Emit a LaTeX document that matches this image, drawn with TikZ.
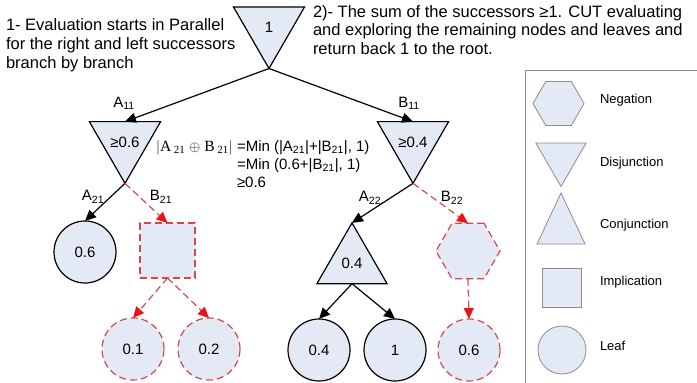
\documentclass[tikz,border=0pt]{standalone}
\usepackage{fontspec}
\setmainfont{Liberation Sans}
\newfontfamily\serifrm{Liberation Serif}
\usetikzlibrary{shapes.geometric,arrows.meta}
\definecolor{nodefill}{RGB}{228,233,246}
\definecolor{dashred}{RGB}{214,72,72}
\definecolor{tipred}{RGB}{235,20,20}
\definecolor{legendgray}{RGB}{140,140,140}
\begin{document}
\begin{tikzpicture}[x=1pt,y=-1pt,
  every node/.style={font=\fontsize{15}{18}\selectfont, inner sep=0pt, outer sep=0pt},
  bigtext/.style={font=\fontsize{16.5}{19}\selectfont, anchor=base west},
  legtext/.style={font=\fontsize{13}{15}\selectfont, anchor=base west},
  solidshape/.style={draw=black, line width=1.2pt, fill=nodefill},
  cutshape/.style={draw=dashred, line width=1.2pt, fill=nodefill, dash pattern=on 7pt off 4pt},
  legshape/.style={draw=legendgray, line width=0.8pt, fill=nodefill},
  leafshape/.style={circle, minimum size=62pt},
  disjshape/.style={regular polygon, regular polygon sides=3, shape border rotate=180},
  conjshape/.style={regular polygon, regular polygon sides=3},
  negshape/.style={regular polygon, regular polygon sides=6},
  impshape/.style={rectangle},
  solidarrow/.style={draw=black, line width=1.2pt, -{Triangle[length=11pt,width=10pt]}},
  cutarrow/.style={draw=dashred, line width=1.2pt, dash pattern=on 7pt off 4pt, -{Triangle[length=11pt,width=10pt,color=tipred]}},
]
\useasboundingbox (0,0) rectangle (697,383);

% top texts
\node[bigtext] (t1) at (6,30.5) {1- Evaluation starts in Parallel};
\node[bigtext] (t2) at (6,49.5) {for the right and left successors};
\node[bigtext] (t3) at (6,68.5) {branch by branch};
\node[bigtext] (r1) at (313,17) {2)- The sum of the successors ≥1. CUT evaluating};
\node[bigtext] (r2) at (313,35.5) {and exploring the remaining nodes and leaves and};
\node[bigtext] (r3) at (313,54) {return back 1 to the root.};

% tree nodes
\node[solidshape, disjshape, minimum size=82pt] (root) at (269,27.5) {\raisebox{-4pt}{1}};
\node[solidshape, disjshape, minimum size=81pt] (d1) at (125,142.2) {\raisebox{-4pt}{≥0.6}};
\node[solidshape, disjshape, minimum size=81pt] (d2) at (413,142.2) {\raisebox{-4pt}{≥0.4}};
\node[solidshape, leafshape] (lA) at (85,252) {0.6};
\node[cutshape, impshape, minimum size=55pt] (sq) at (167.5,250.5) {};
\node[cutshape, leafshape] (l01) at (133,349) {0.1};
\node[cutshape, leafshape] (l02) at (209,349) {0.2};
\node[solidshape, conjshape, minimum size=81pt] (cj) at (352,263.4) {0.4};
\node[cutshape, negshape, minimum size=64pt] (hx) at (468,251) {};
\node[solidshape, leafshape] (l04) at (319,350) {0.4};
\node[solidshape, leafshape] (l1) at (395,350) {1};
\node[cutshape, leafshape] (l06) at (469,350) {0.6};

% connectors
\draw[solidarrow] (root.south) -- (d1.north);
\draw[solidarrow] (root.south) -- (d2.north);
\draw[solidarrow] (d1.south) -- (lA.north);
\draw[cutarrow] (d1.south) -- (sq.north);
\draw[cutarrow] (sq.south) -- (l01.north);
\draw[cutarrow] (sq.south) -- (l02.north);
\draw[solidarrow] (d2.south) -- (cj.north);
\draw[cutarrow] (d2.south) -- (hx.north);
\draw[solidarrow] (cj.south) -- (l04.north);
\draw[solidarrow] (cj.south) -- (l1.north);
\draw[cutarrow] (hx.south) -- (l06.north);

% edge labels
\node (lbA11) at (124,103) {A\textsubscript{11}};
\node (lbB11) at (409,103) {B\textsubscript{11}};
\node (lbA21) at (93,197) {A\textsubscript{21}};
\node (lbB21) at (161,197) {B\textsubscript{21}};
\node (lbA22) at (370,198) {A\textsubscript{22}};
\node (lbB22) at (452,198) {B\textsubscript{22}};

% formula
\node[anchor=base west] (fm) at (156,151) {\serifrm\fontsize{15.6}{18}\selectfont$\Bigl|$A\,\textsubscript{21} $\oplus$ B\,\textsubscript{21}$\Bigr|$};
\node[anchor=base west] (f1) at (237,151) {=Min (|A\textsubscript{21}|+|B\textsubscript{21}|, 1)};
\node[anchor=base west] (f2) at (237,169) {=Min (0.6+|B\textsubscript{21}|, 1)};
\node[anchor=base west] (f3) at (237,187) {≥0.6};

% legend
\draw[legendgray, line width=0.8pt] (697,70) -- (525,70) -- (525,383);
\node[legshape, negshape, minimum size=51pt] (gneg) at (558.5,103.5) {};
\node[legshape, disjshape, minimum size=58pt] (gdis) at (561,157.5) {};
\draw[legshape] (537,244) -- (561,193) -- (585,244) -- cycle;
\node[legshape, impshape, minimum size=39pt] (gimp) at (561.5,287.5) {};
\node[legshape, circle, minimum size=48pt] (gleaf) at (562,350) {};
\node[legtext] (tneg) at (600,103) {Negation};
\node[legtext] (tdis) at (600,166) {Disjunction};
\node[legtext] (tcon) at (600,228) {Conjunction};
\node[legtext] (timp) at (600,285) {Implication};
\node[legtext] (tleaf) at (600,350) {Leaf};
\end{tikzpicture}
\end{document}
